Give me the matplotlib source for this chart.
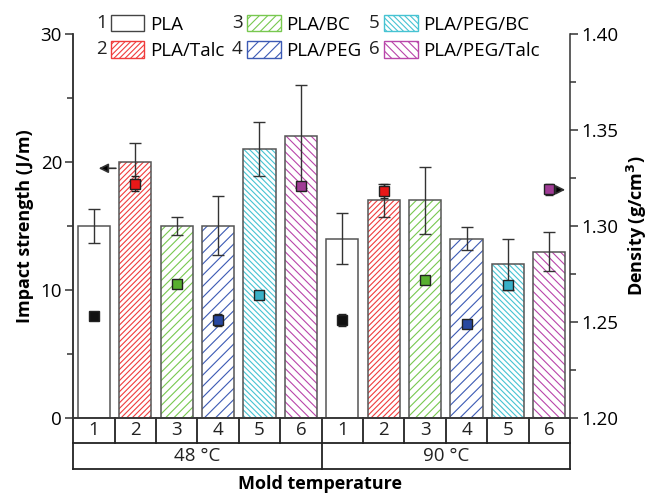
import numpy as np
import matplotlib
matplotlib.use("Agg")
import matplotlib.pyplot as plt
import matplotlib.transforms as mtransforms

plt.rcParams['font.family'] = ['Open Sans', 'DejaVu Sans']
plt.rcParams['hatch.linewidth'] = 0.8

# ---- data ----
samples = ['PLA', 'PLA/Talc', 'PLA/BC', 'PLA/PEG', 'PLA/PEG/BC', 'PLA/PEG/Talc']
temps = ['48 °C', '90 °C']
impact_48 = [15, 20, 15, 15, 21, 22]
impact_48_err = [1.3, 1.5, 0.7, 2.3, 2.1, 4.0]
impact_90 = [14, 17, 17, 14, 12, 13]
impact_90_err = [2.0, 1.3, 2.6, 0.9, 2.0, 1.5]
density_48 = [1.253, 1.322, 1.270, 1.251, 1.264, 1.321]
density_48_err = [0.0008, 0.004, 0.0015, 0.003, 0.001, 0.001]
density_90 = [1.251, 1.318, 1.272, 1.249, 1.269, 1.319]
density_90_err = [0.003, 0.0037, 0.001, 0.001, 0.001, 0.003]

hatch_colors = ['#ffffff', '#f03c3c', '#78c850', '#3c5ab4', '#46c3d2', '#b946aa']
hatches = [None, '//////', '////', '///', '\\\\\\\\\\\\', '\\\\\\\\']
marker_colors = ['#111111', '#e81818', '#58b030', '#2848a0', '#38b0c8', '#a03c96']

impact = impact_48 + impact_90
impact_err = impact_48_err + impact_90_err
density = density_48 + density_90
density_err = density_48_err + density_90_err
x = np.arange(1, 13)

fig = plt.figure(figsize=(6.59, 4.95), dpi=100)
ax = fig.add_axes([0.111, 0.1556, 0.754, 0.776])
ax2 = ax.twinx()

for i in range(12):
    k = i % 6
    ax.bar(x[i], impact[i], width=0.78, color='white', edgecolor=hatch_colors[k] if k else 'white',
           hatch=hatches[k], linewidth=0, zorder=2)
    ax.bar(x[i], impact[i], width=0.78, fill=False, edgecolor='#555555', linewidth=1.1, zorder=3)
ax.errorbar(x, impact, yerr=impact_err, fmt='none', ecolor='#333333', elinewidth=1,
            capsize=4, capthick=1, zorder=4)

for i in range(12):
    k = i % 6
    ax2.errorbar(x[i], density[i], yerr=density_err[i], fmt='s', ms=6.5, mfc=marker_colors[k],
                 mec='#222222', mew=1, ecolor='#222222', elinewidth=1, capsize=3, zorder=5)

ax.annotate('', xy=(1.05, 19.5), xytext=(1.6, 19.5),
            arrowprops=dict(arrowstyle='-|>', color='#555555', lw=1.2,
                            mutation_scale=14, fc='black', ec='#333333'))
ax2.annotate('', xy=(12.45, 1.3188), xytext=(12.08, 1.3188),
             arrowprops=dict(arrowstyle='-|>', color='#555555', lw=1.2,
                             mutation_scale=14, fc='black', ec='#333333'))

ax.set_xlim(0.5, 12.5)
ax.set_ylim(0, 30)
ax2.set_ylim(1.20, 1.40)
ax.set_yticks([0, 10, 20, 30])
ax.set_yticks([5, 15, 25], minor=True)
ax2.set_yticks([1.20, 1.25, 1.30, 1.35, 1.40])
ax2.set_yticklabels(['1.20', '1.25', '1.30', '1.35', '1.40'])
ax2.set_yticks([1.225, 1.275, 1.325, 1.375], minor=True)
ax.set_xticks([])
ax2.set_xticks([])
for a in (ax, ax2):
    a.spines['top'].set_visible(False)
    for s in a.spines.values():
        s.set_color('#333333')
        s.set_linewidth(1.1)
ax.spines['right'].set_visible(False)
ax.tick_params(axis='y', which='major', length=6, width=1.1, color='#333333', labelsize=13.5, pad=2)
ax.tick_params(axis='y', which='minor', length=4, width=1.1, color='#333333')
ax2.tick_params(axis='y', which='major', length=6, width=1.1, color='#333333', labelsize=13.5, pad=2)
ax2.tick_params(axis='y', which='minor', length=4, width=1.1, color='#333333')

ax.set_ylabel('Impact strength (J/m)', fontsize=13, fontweight='bold', labelpad=5)
ax2.set_ylabel('Density (g/cm$^\\mathbf{3}$)', fontsize=13, fontweight='bold', labelpad=5)

# category table under the axis
trans = mtransforms.blended_transform_factory(ax.transData, ax.transAxes)
r1, r2 = -0.065, -0.133
lk = dict(color='#222222', lw=1.3, transform=trans, clip_on=False)
ax.plot([0.5, 12.5], [r1, r1], **lk)
ax.plot([0.5, 12.5], [r2, r2], **lk)
ax.plot([0.5, 0.5], [0, r2], **lk)
ax.plot([12.5, 12.5], [0, r2], **lk)
ax.plot([6.5, 6.5], [0, r2], **lk)
for b in np.arange(1.5, 12.5, 1.0):
    if b != 6.5:
        ax.plot([b, b], [0, r1], **lk)
for i in range(12):
    ax.text(x[i], (0 + r1) / 2, str(i % 6 + 1), transform=trans, ha='center', va='center',
            fontsize=13.5, color='#222222')
ax.text(3.5, (r1 + r2) / 2, temps[0], transform=trans, ha='center', va='center', fontsize=13.5, color='#222222')
ax.text(9.5, (r1 + r2) / 2, temps[1], transform=trans, ha='center', va='center', fontsize=13.5, color='#222222')
fig.text(0.486, 0.022, 'Mold temperature', ha='center', va='center', fontsize=13, fontweight='bold')

# legend
handles = []
for k in range(6):
    h = plt.Rectangle((0, 0), 1, 1, facecolor='white', edgecolor=hatch_colors[k] if k else '#333333',
                      hatch=hatches[k], linewidth=1)
    handles.append(h)
leg = fig.legend(handles, samples, ncol=3, loc='upper left', bbox_to_anchor=(0.145, 1.0),
                 frameon=False, fontsize=13.5, handlelength=1.8, handleheight=0.95,
                 handletextpad=0.3, columnspacing=1.2, labelspacing=0.42, borderpad=0.3)
for h in leg.legend_handles:
    if h.get_hatch() is None:
        h.set_edgecolor('#444444')

fig.canvas.draw()
inv = fig.transFigure.inverted()
for k, h in enumerate(leg.legend_handles):
    bb = h.get_window_extent(fig.canvas.get_renderer())
    px, py = inv.transform((bb.x0 - 4, (bb.y0 + bb.y1) / 2))
    fig.text(px, py, str(k + 1), ha='right', va='center', fontsize=13.5, color='#222222')

fig.savefig('out.png', dpi=100)
